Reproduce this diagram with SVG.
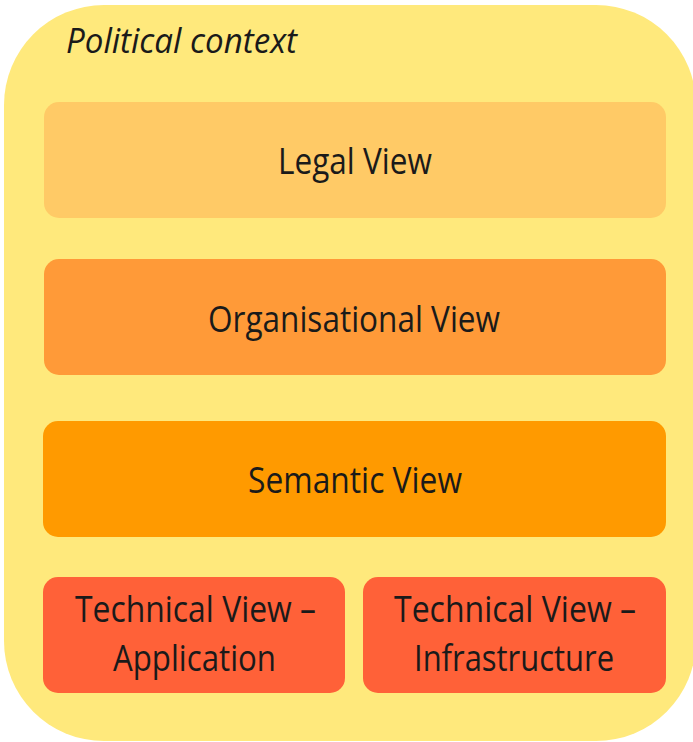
<svg xmlns="http://www.w3.org/2000/svg" width="693" height="742" viewBox="0 0 693 742">
  <style>
    .lbl { font-family: "Open Sans", "Liberation Sans", sans-serif; font-size: 37px; fill: #1a1a1a; text-anchor: middle; }
    .title { font-family: "Open Sans", "Liberation Sans", sans-serif; font-size: 35px; font-style: italic; fill: #1a1a1a; }
    .box { rx: 15; ry: 15; }
  </style>
  <rect width="693" height="742" fill="#ffffff"/>
  <g id="political-context">
    <rect x="4" y="5" width="692" height="736" rx="100" ry="100" fill="#FFE97C"/>
    <text class="title" x="66" y="53" textLength="231" lengthAdjust="spacingAndGlyphs">Political context</text>
  </g>
  <g id="legal-view">
    <rect class="box" x="44" y="102" width="622" height="116" fill="#FFCA66"/>
    <text class="lbl" x="355" y="174" textLength="154" lengthAdjust="spacingAndGlyphs">Legal View</text>
  </g>
  <g id="organisational-view">
    <rect class="box" x="44" y="259" width="622" height="116" fill="#FF9A38"/>
    <text class="lbl" x="354" y="332" textLength="292" lengthAdjust="spacingAndGlyphs">Organisational View</text>
  </g>
  <g id="semantic-view">
    <rect class="box" x="43" y="421" width="623" height="116" fill="#FF9A00"/>
    <text class="lbl" x="355" y="493" textLength="214" lengthAdjust="spacingAndGlyphs">Semantic View</text>
  </g>
  <g id="technical-view-application">
    <rect class="box" x="43" y="577" width="302" height="116" fill="#FF6138"/>
    <text class="lbl" x="195.5" y="622" textLength="241" lengthAdjust="spacingAndGlyphs">Technical View –</text>
    <text class="lbl" x="194.5" y="671" textLength="163" lengthAdjust="spacingAndGlyphs">Application</text>
  </g>
  <g id="technical-view-infrastructure">
    <rect class="box" x="363" y="577" width="303" height="116" fill="#FF6138"/>
    <text class="lbl" x="515" y="622" textLength="242" lengthAdjust="spacingAndGlyphs">Technical View –</text>
    <text class="lbl" x="514" y="671" textLength="200" lengthAdjust="spacingAndGlyphs">Infrastructure</text>
  </g>
  <g id="connectors"/>
</svg>
